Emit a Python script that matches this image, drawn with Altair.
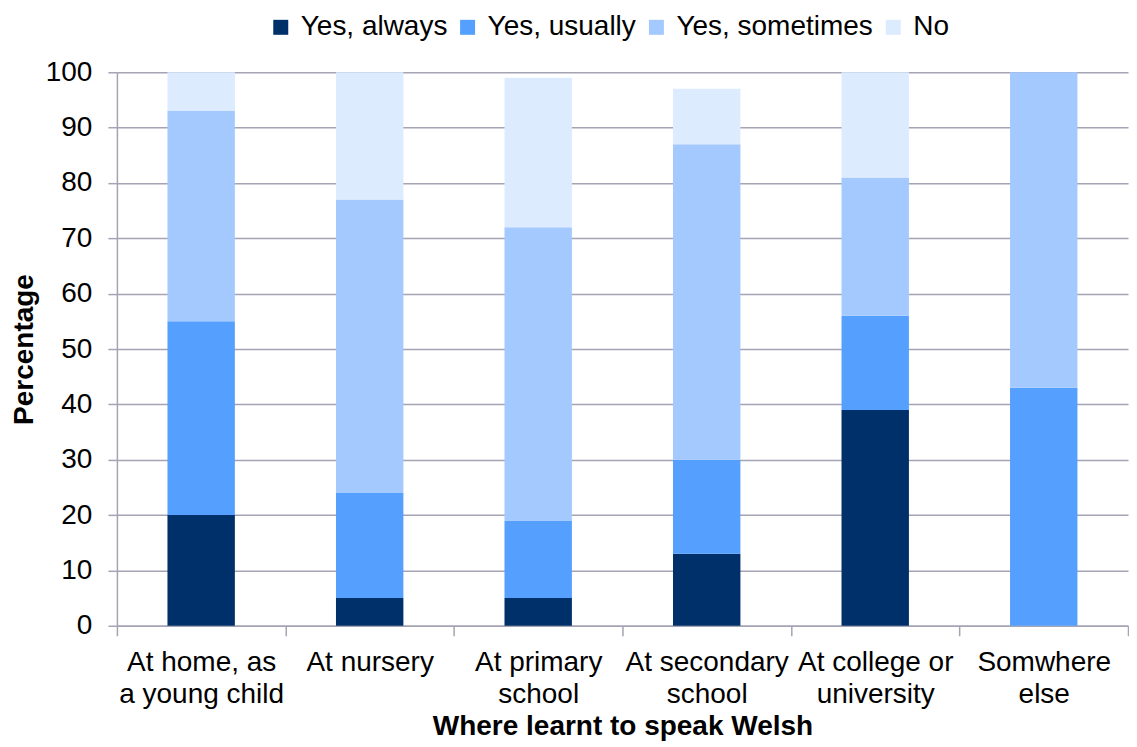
import altair as alt
import pandas as pd

categories = ["At home, as|a young child", "At nursery", "At primary|school",
              "At secondary|school", "At college or|university", "Somwhere|else"]
series = ["Yes, always", "Yes, usually", "Yes, sometimes", "No"]
always = [20, 5, 5, 13, 39, 0]
usually = [35, 19, 14, 17, 17, 43]
sometimes = [38, 53, 53, 57, 25, 57]
no = [7, 23, 27, 10, 19, 0]
colors = ["#00306A", "#559FFF", "#A4C9FF", "#DDEBFF"]

rows = []
for i, cat in enumerate(categories):
    for j, (s, vals) in enumerate(zip(series, [always, usually, sometimes, no])):
        rows.append({"cat": cat, "series": s, "value": vals[i], "ord": j})
df = pd.DataFrame(rows)

FONT = "Liberation Sans"
GRID = "#A4A4B4"
FS = 28

chart = alt.Chart(df).mark_bar(width=alt.RelativeBandSize(0.4)).encode(
    x=alt.X("cat:N", sort=categories,
            scale=alt.Scale(paddingInner=0, paddingOuter=0),
            axis=alt.Axis(title="Where learnt to speak Welsh", labelAngle=0,
                          labelExpr="split(datum.label, '|')",
                          tickBand="extent", tickSize=10, tickColor=GRID,
                          domainColor=GRID, domainWidth=1.5, tickWidth=1.5,
                          labelPadding=13, labelLineHeight=32,
                          labelFontSize=FS, labelFont=FONT, labelColor="#000",
                          titleFontSize=FS, titleFont=FONT, titleFontWeight="bold",
                          titleColor="#000", titlePadding=4, grid=False)),
    y=alt.Y("value:Q", stack="zero",
            scale=alt.Scale(domain=[0, 100], nice=False),
            axis=alt.Axis(title="Percentage", values=list(range(0, 101, 10)),
                          tickSize=9, tickColor=GRID, tickWidth=1.5,
                          domainColor=GRID, domainWidth=1.5,
                          gridColor=GRID, gridWidth=1.5,
                          labelPadding=16, labelFontSize=FS, labelFont=FONT,
                          labelColor="#000",
                          titleFontSize=FS, titleFont=FONT, titleFontWeight="bold",
                          titleColor="#000", titlePadding=7)),
    color=alt.Color("series:N", sort=series,
                    scale=alt.Scale(domain=series, range=colors),
                    legend=alt.Legend(title=None, orient="none", direction="horizontal",
                                      legendX=150, legendY=-59, labelLimit=400,
                                      symbolType="square", symbolSize=225,
                                      symbolStrokeWidth=0, labelFontSize=FS,
                                      labelFont=FONT, labelColor="#000",
                                      labelOffset=6, columnPadding=6)),
    order=alt.Order("ord:Q", sort="ascending"),
).properties(width=1012, height=554, padding={"left": 2, "top": 5, "right": 0, "bottom": 0}
).configure_view(stroke=None)

chart.save("out.html", embed_options={"renderer": "svg", "actions": False})
